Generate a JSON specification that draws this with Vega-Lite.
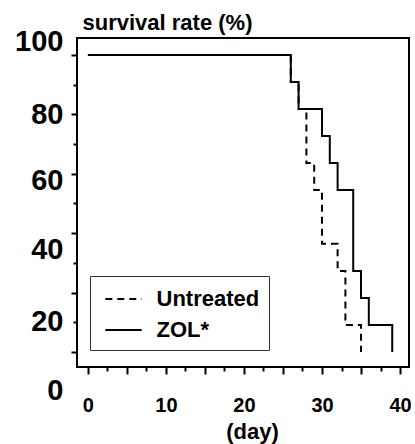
{
  "$schema": "https://vega.github.io/schema/vega-lite/v6.json",
  "width": 332,
  "height": 329,
  "autosize": "none",
  "padding": {"left": 77, "top": 38, "right": 6, "bottom": 77},
  "background": "white",
  "config": {"view": {"stroke": "black", "strokeWidth": 2}, "font": "Liberation Sans"},
  "data": {
    "values": [
      {"group": "Untreated", "day": 0, "survival": 100},
      {"group": "Untreated", "day": 26, "survival": 90.9},
      {"group": "Untreated", "day": 27, "survival": 81.8},
      {"group": "Untreated", "day": 28, "survival": 63.6},
      {"group": "Untreated", "day": 29, "survival": 54.5},
      {"group": "Untreated", "day": 30, "survival": 36.4},
      {"group": "Untreated", "day": 32, "survival": 27.3},
      {"group": "Untreated", "day": 33, "survival": 9.1},
      {"group": "Untreated", "day": 35, "survival": 0},
      {"group": "ZOL*", "day": 0, "survival": 100},
      {"group": "ZOL*", "day": 26, "survival": 90.9},
      {"group": "ZOL*", "day": 27, "survival": 81.8},
      {"group": "ZOL*", "day": 30, "survival": 72.7},
      {"group": "ZOL*", "day": 31, "survival": 63.6},
      {"group": "ZOL*", "day": 32, "survival": 54.5},
      {"group": "ZOL*", "day": 34, "survival": 27.3},
      {"group": "ZOL*", "day": 35, "survival": 18.2},
      {"group": "ZOL*", "day": 36, "survival": 9.1},
      {"group": "ZOL*", "day": 39, "survival": 0}
    ]
  },
  "mark": {"type": "line", "interpolate": "step-after", "color": "black", "strokeWidth": 2},
  "encoding": {
    "x": {
      "field": "day",
      "type": "quantitative",
      "scale": {"domain": [-1.4, 41.15], "nice": false, "zero": false},
      "axis": {
        "values": [0, 2.5, 5, 7.5, 10, 12.5, 15, 17.5, 20, 22.5, 25, 27.5, 30, 32.5, 35, 37.5, 40],
        "domain": false,
        "grid": false,
        "tickColor": "black",
        "tickWidth": 2,
        "tickSize": {"condition": {"test": "datum.value % 5 === 0", "value": 7}, "value": 4},
        "labelExpr": "datum.value % 10 === 0 ? datum.label : ''",
        "labelOverlap": false,
        "labelFont": "Liberation Sans",
        "labelFontWeight": "bold",
        "labelFontSize": 20,
        "labelColor": "black",
        "labelPadding": 21,
        "title": "(day)",
        "titleFont": "Liberation Sans",
        "titleFontWeight": "bold",
        "titleFontSize": 22,
        "titleColor": "black",
        "titleX": 175,
        "titleY": 71,
        "titleBaseline": "alphabetic",
        "titleAlign": "center"
      }
    },
    "y": {
      "field": "survival",
      "type": "quantitative",
      "scale": {"domain": [-5.05, 105.7], "nice": false, "zero": false},
      "axis": {
        "values": [0, 10, 20, 30, 40, 50, 60, 70, 80, 90, 100],
        "domain": false,
        "grid": false,
        "tickColor": "black",
        "tickWidth": 2,
        "tickSize": {"condition": {"test": "datum.value % 20 === 0", "value": 6}, "value": 4},
        "labelExpr": "datum.value % 20 === 0 ? datum.label : ''",
        "labelOverlap": false,
        "labelFont": "Liberation Sans",
        "labelFontWeight": "bold",
        "labelFontSize": 29,
        "labelColor": "black",
        "labelPadding": 8,
        "labelOffset": {
          "condition": [
            {"test": "datum.value === 100", "value": -13},
            {"test": "datum.value === 60", "value": 7},
            {"test": "datum.value === 40", "value": 16},
            {"test": "datum.value === 20", "value": 29},
            {"test": "datum.value === 0", "value": 39}
          ],
          "value": 0
        },
        "title": "survival rate (%)",
        "titleFont": "Liberation Sans",
        "titleFontWeight": "bold",
        "titleFontSize": 22,
        "titleColor": "black",
        "titleAngle": 0,
        "titleAlign": "left",
        "titleBaseline": "alphabetic",
        "titleX": 5,
        "titleY": -9
      }
    },
    "strokeDash": {
      "field": "group",
      "type": "nominal",
      "scale": {"domain": ["Untreated", "ZOL*"], "range": [[7, 5], [1, 0]]},
      "legend": {
        "orient": "none",
        "legendX": 13,
        "legendY": 238,
        "title": null,
        "symbolType": "M-1.4,0H1.4",
        "symbolSize": 676,
        "symbolOffset": 10.5,
        "symbolStrokeWidth": 2,
        "symbolStrokeColor": "black",
        "symbolFillColor": "transparent",
        "labelFont": "Liberation Sans",
        "labelFontWeight": "bold",
        "labelFontSize": 22,
        "labelColor": "black",
        "labelOffset": 19,
        "rowPadding": 6,
        "padding": 9,
        "strokeColor": "#333",
        "fillColor": "white"
      }
    }
  }
}
